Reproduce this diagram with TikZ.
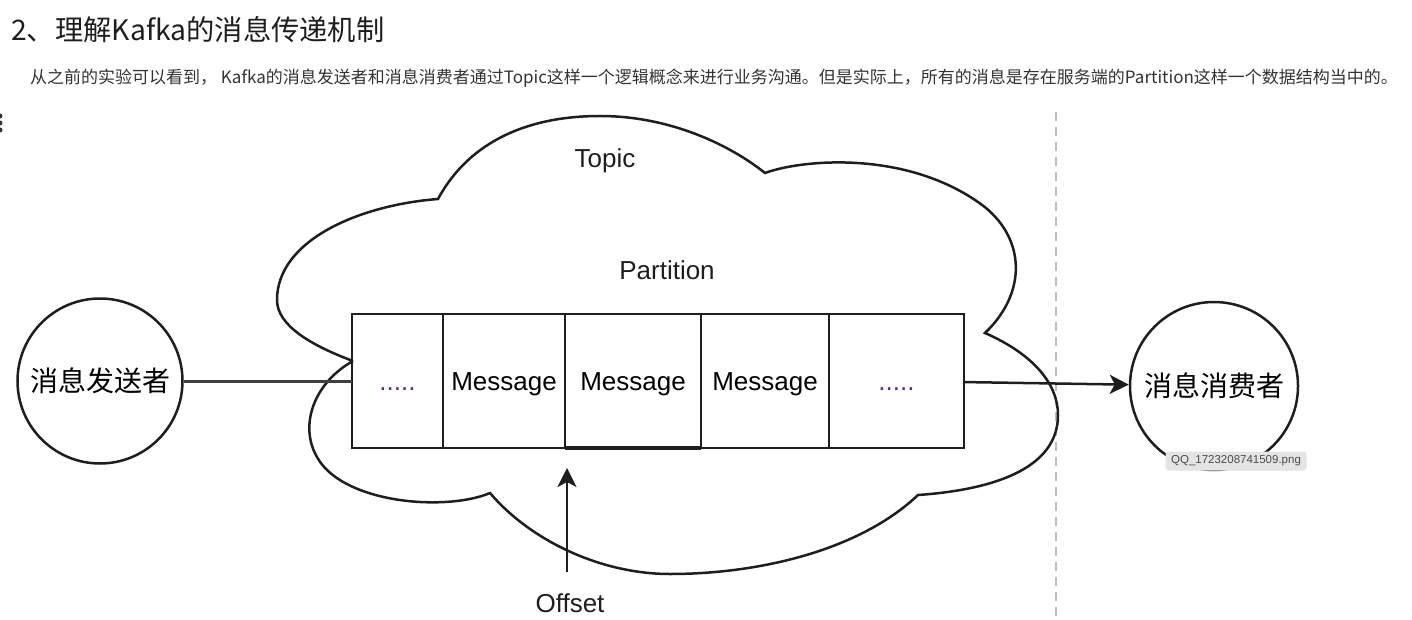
\documentclass[tikz,border=0pt]{standalone}
\usepackage{fontspec}
\setmainfont{Liberation Sans}
\newfontfamily\cjk{Noto Sans CJK SC}
\usetikzlibrary{arrows.meta,positioning}

\definecolor{ink}{HTML}{1E1E1E}
\definecolor{textgray}{HTML}{333333}
\definecolor{dotcol}{HTML}{5A2E6A}
\definecolor{tipbg}{HTML}{E4E4E4}

\tikzset{
  cell/.style={rectangle,draw=ink,line width=2pt,minimum height=134pt,inner sep=0pt,outer sep=0pt,
    text height=19pt,text depth=0pt,font=\fontsize{26}{26}\selectfont},
  party/.style={circle,draw=ink,line width=2.5pt,inner sep=0pt,font=\cjk\fontsize{28}{28}\selectfont},
  word/.style={inner sep=0pt,text=ink,font=\fontsize{26}{26}\selectfont},
}

\begin{document}
\begin{tikzpicture}[x=1pt,y=-1pt,>={Stealth[length=19pt,width=19pt,inset=5pt]}]
\useasboundingbox (0,0) rectangle (1412,620);

% heading
\node[anchor=west,inner sep=0pt,text=ink,font=\cjk\fontsize{28.3}{28.3}\selectfont] (title) at (11,30) {2、理解Kafka的消息传递机制};

% intro line
\node[anchor=west,inner sep=0pt,text=textgray,font=\cjk\fontsize{17}{17}\selectfont] (intro) at (30,78)
  {从之前的实验可以看到， Kafka的消息发送者和消息消费者通过Topic这样一个逻辑概念来进行业务沟通。但是实际上，所有的消息是存在服务端的Partition这样一个数据结构当中的。};

% cut off mark at the left edge
\foreach \y in {116,123,130} \fill[textgray] (0,\y) circle (2.5pt);

% separator
\draw[gray!50,line width=1.5pt,dash pattern=on 9pt off 6pt] (1056,112) -- (1056,620);

% topic cloud
\draw[ink,line width=2.5pt]
  (353,361) .. controls (310,345) and (277,325) .. (277,300)
            .. controls (277,240) and (360,205) .. (438,199)
            .. controls (470,140) and (530,116) .. (600,116)
            .. controls (670,116) and (730,145) .. (765,173)
            .. controls (800,160) and (900,150) .. (975,200)
            .. controls (1025,232) and (1030,290) .. (985,333)
            .. controls (1035,355) and (1058,385) .. (1058,415)
            .. controls (1058,470) and (990,490) .. (918,495)
            .. controls (860,550) and (760,574) .. (670,574)
            .. controls (600,574) and (530,540) .. (490,493)
            .. controls (450,510) and (360,505) .. (325,468)
            .. controls (295,435) and (310,385) .. (353,361);

\node[word] (topic) at (605,161) {Topic};
\node[word] (partition) at (667,270) {Partition};

% partition cells
\node[cell,minimum width=91pt,text=dotcol] (c0) at (397.5,381) {.....};
\node[cell,minimum width=122pt,right=0pt of c0] (c1) {Message};
\node[cell,minimum width=136pt,right=0pt of c1] (c2) {Message};
\node[cell,minimum width=128pt,right=0pt of c2] (c3) {Message};
\node[cell,minimum width=135pt,right=0pt of c3,text=dotcol] (c4) {.....};
\draw[ink,line width=4pt] (c2.south west) -- (c2.south east);

% producer and consumer
\node[party,minimum size=165pt] (sender) at (100,381) {消息发送者};
\node[party,minimum size=168pt] (consumer) at (1214,386) {消息消费者};

\draw[ink!85,line width=3pt] (sender) -- (c0);
\draw[ink,line width=2.5pt,->] (c4) -- (consumer);

% offset pointer
\node[word] (offset) at (570,603) {Offset};
\coordinate (offtip) at (567,468);
\draw[ink,line width=2.5pt,->,shorten <=21pt] (offset.north -| offtip) -- (offtip);

% file name tooltip
\node[fill=tipbg,rounded corners=3pt,inner sep=0pt,minimum width=141pt,minimum height=19pt,
  text=black!70,font=\fontsize{11.5}{11.5}\selectfont] (tooltip) at (1236,461) {QQ\_1723208741509.png};

\end{tikzpicture}
\end{document}
